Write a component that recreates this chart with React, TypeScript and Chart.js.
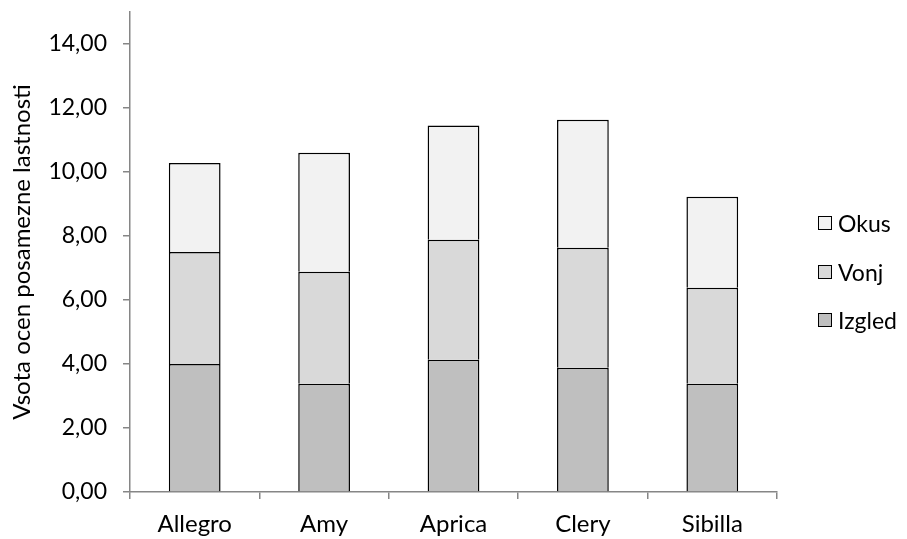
import React, { useEffect, useRef } from 'react';
import { Chart, registerables } from 'chart.js';
Chart.register(...registerables);

const categories = ['Allegro', 'Amy', 'Aprica', 'Clery', 'Sibilla'];
const izgled = [4.0, 3.38, 4.13, 3.88, 3.38];
const vonj = [3.5, 3.5, 3.75, 3.75, 3.0];
const okus = [2.78, 3.72, 3.57, 4.0, 2.85];
const yTicks = [0, 2, 4, 6, 8, 10, 12, 14];
const seriesNames = ['Izgled', 'Vonj', 'Okus'];
const seriesColors = ['#bfbfbf', '#d9d9d9', '#f2f2f2'];
const yTitle = 'Vsota ocen posamezne lastnosti';

const FONT = 'Lato, "Open Sans", sans-serif';
const AXIS = '#868686';

export default function App() {
  const ref = useRef<HTMLCanvasElement>(null);
  useEffect(() => {
    document.body.style.margin = '0';
    const series = [izgled, vonj, okus];
    const chart = new Chart(ref.current!, {
      type: 'bar',
      data: {
        labels: categories,
        datasets: series.map((d, i) => ({
          label: seriesNames[i],
          data: d,
          backgroundColor: seriesColors[i],
          borderColor: '#000000',
          borderWidth: 1.5,
          barPercentage: 0.4,
          categoryPercentage: 1,
        })),
      },
      options: {
        responsive: false,
        animation: false,
        devicePixelRatio: 1,
        layout: { padding: { top: 12, right: 130, left: 0, bottom: 0 } },
        plugins: { legend: { display: false }, tooltip: { enabled: false } },
        scales: {
          x: {
            stacked: true,
            grid: { offset: true, drawOnChartArea: false, color: AXIS, tickLength: 7, lineWidth: 1.5 },
            border: { color: AXIS, width: 1.5 },
            ticks: { color: '#000', font: { family: FONT, size: 24 }, padding: 11 },
            afterFit: (s: any) => { s.height = 47; s.paddingLeft = 0; s.paddingRight = 0; },
          },
          y: {
            stacked: true,
            min: 0,
            max: 15,
            afterBuildTicks: (s: any) => { s.ticks = yTicks.map((v) => ({ value: v })); },
            grid: { drawOnChartArea: false, color: AXIS, tickLength: 7, lineWidth: 1.5 },
            border: { color: AXIS, width: 1.5 },
            ticks: {
              color: '#000',
              font: { family: FONT, size: 23 },
              padding: 16,
              callback: (v: any) => Number(v).toFixed(2).replace('.', ','),
            },
            title: { display: true, text: yTitle, color: '#000', font: { family: FONT, size: 24 }, padding: { top: 8, bottom: 4 } },
            afterFit: (s: any) => { s.width = 130; s.paddingTop = 0; s.paddingBottom = 0; },
          },
        },
      },
    });
    return () => chart.destroy();
  }, []);

  const legendItems = [2, 1, 0];
  return (
    <div style={{ position: 'relative', width: 907, height: 539, fontFamily: FONT }}>
      <canvas ref={ref} width={907} height={539} style={{ display: 'block' }} />
      <div style={{ position: 'absolute', left: 818, top: 199 }}>
        {legendItems.map((i) => (
          <div key={i} style={{ display: 'flex', alignItems: 'center', height: 48.5 }}>
            <div style={{ width: 12, height: 12, background: seriesColors[i], border: '1.5px solid #000', marginRight: 6 }} />
            <span style={{ fontSize: 23, color: '#000' }}>{seriesNames[i]}</span>
          </div>
        ))}
      </div>
    </div>
  );
}
